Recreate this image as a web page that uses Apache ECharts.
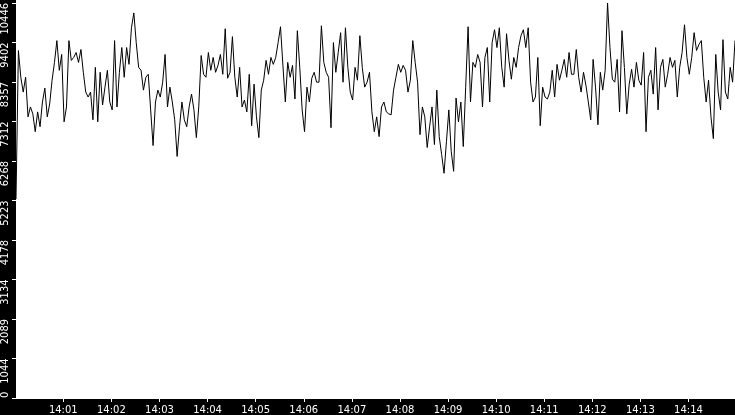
<!DOCTYPE html>
<html>
<head>
<meta charset="utf-8">
<script src="https://cdn.jsdelivr.net/npm/echarts@6/dist/echarts.min.js"></script>
<style>
html, body { margin: 0; padding: 0; background: #fff; }
#chart { width: 735px; height: 415px; }
</style>
</head>
<body>
<div id="chart"></div>
<script>
// samples every 3 seconds starting at 14:00:01
var startTime = [14, 0, 1];
var stepSec = 3;
var yMax = 10446;
var yTickLabels = ['0', '1044', '2089', '3134', '4178', '5223', '6268', '7312', '8357', '9402', '10446'];

var values = [
  5262, 9189, 8482, 8090, 8482, 7435, 7697, 7514, 7043, 7566,
  7173, 7828, 8195, 7435, 7776, 8404, 8875, 9451, 8666, 9085,
  7304, 7697, 9451, 8928, 9006, 9137, 8875, 9216, 8613, 8090,
  7959, 8090, 7357, 8744, 7304, 8613, 7749, 8221, 8666, 7828,
  7619, 9451, 7697, 8613, 9268, 8482, 9268, 8823, 9791, 10184,
  9399, 8744, 8666, 8142, 8482, 8561, 7619, 6676, 7828, 8142,
  7959, 8352, 9085, 7697, 8221, 7828, 7357, 6388, 7173, 7828,
  7357, 7173, 7697, 8037, 7619, 6886, 7697, 9058, 8561, 8482,
  9137, 8666, 9006, 8613, 8797, 9085, 8561, 9765, 8456, 8613,
  9556, 8482, 7959, 8744, 7697, 7880, 7566, 8561, 7200, 8299,
  7435, 6886, 8142, 8404, 8928, 8561, 9006, 8823, 9006, 9399,
  9818, 8797, 7828, 8875, 8482, 8797, 7907, 9713, 8744, 7619,
  7043, 8221, 7828, 8456, 8613, 8352, 8352, 9844, 8875, 8613,
  8482, 7147, 9399, 8613, 9137, 9661, 8352, 9791, 8744, 8090,
  7880, 8744, 8404, 9582, 8744, 8221, 8352, 8613, 7566, 7043,
  7435, 6912, 7697, 7828, 7566, 7514, 7488, 8142, 8482, 8823,
  8613, 8797, 8666, 8090, 8404, 9451, 8875, 8352, 6964, 7697,
  7435, 6624, 7173, 7697, 6702, 8142, 6912, 6440, 5943, 6781,
  7619, 6519, 5995, 7933, 7304, 7828, 6650, 8221, 9818, 7828,
  8875, 8744, 9085, 8875, 7697, 9006, 9268, 7828, 9399, 9739,
  9268, 9791, 8744, 8221, 9634, 8928, 8430, 9006, 8744, 9268,
  9582, 9739, 9268, 9791, 8352, 7828, 7959, 9006, 7200, 8221,
  7959, 7907, 8090, 8666, 7959, 8823, 8404, 8666, 8954, 8482,
  9137, 8561, 8561, 9216, 8482, 8090, 8613, 8273, 7828, 7357,
  8954, 8221, 7226, 8613, 8142, 8666, 10446, 9268, 8430, 8352,
  8954, 7566, 9713, 8744, 7514, 8299, 8692, 8221, 8875, 8404,
  8273, 9137, 7043, 8482, 8666, 8037, 9268, 7619, 8744, 8954,
  8221, 8561, 9006, 8744, 8928, 7959, 8744, 9137, 9870, 9006,
  8561, 9006, 9661, 9189, 9346, 9451, 8482, 7828, 8404, 7435,
  6859, 9085, 8090, 7619, 9477, 8090, 7907, 8744, 8352, 9451
];

var t0 = new Date(2024, 0, 1, startTime[0], startTime[1], startTime[2]).getTime();
var seriesData = values.map(function (v, i) {
  return [t0 + i * stepSec * 1000, v];
});
var yStep = yMax / (yTickLabels.length - 1);

var chart = echarts.init(document.getElementById('chart'));
chart.setOption({
  animation: false,
  backgroundColor: '#fff',
  graphic: [
    { type: 'rect', z: -10, silent: true, shape: { x: 0, y: 0, width: 16, height: 415 }, style: { fill: '#000' } },
    { type: 'rect', z: -10, silent: true, shape: { x: 0, y: 399, width: 735, height: 16 }, style: { fill: '#000' } }
  ],
  grid: { left: 16, right: 0, top: 0, bottom: 16 },
  xAxis: {
    type: 'time',
    min: 'dataMin',
    max: 'dataMax',
    minInterval: 60000,
    maxInterval: 60000,
    axisLine: { show: false },
    axisTick: { show: true, length: 4, lineStyle: { color: '#fff', width: 1 } },
    splitLine: { show: false },
    axisLabel: {
      color: '#fff',
      fontFamily: 'DejaVu Sans',
      fontSize: 10,
      margin: 7,
      formatter: '{HH}:{mm}',
      hideOverlap: false
    }
  },
  yAxis: {
    type: 'value',
    min: 0,
    max: yMax,
    interval: yStep,
    axisLine: { show: false },
    axisTick: { show: true, length: 4, lineStyle: { color: '#fff', width: 1 } },
    splitLine: { show: false },
    axisLabel: {
      color: '#fff',
      fontFamily: 'Liberation Sans Narrow, DejaVu Sans Condensed, sans-serif',
      fontSize: 11,
      rotate: 90,
      margin: 5,
      align: 'right',
      alignMinLabel: 'left',
      formatter: function (v) { return yTickLabels[Math.round(v / yStep)]; }
    }
  },
  series: [{
    type: 'line',
    data: seriesData,
    showSymbol: false,
    symbol: 'none',
    lineStyle: { color: '#000', width: 1 },
    clip: true
  }]
});
</script>
</body>
</html>
